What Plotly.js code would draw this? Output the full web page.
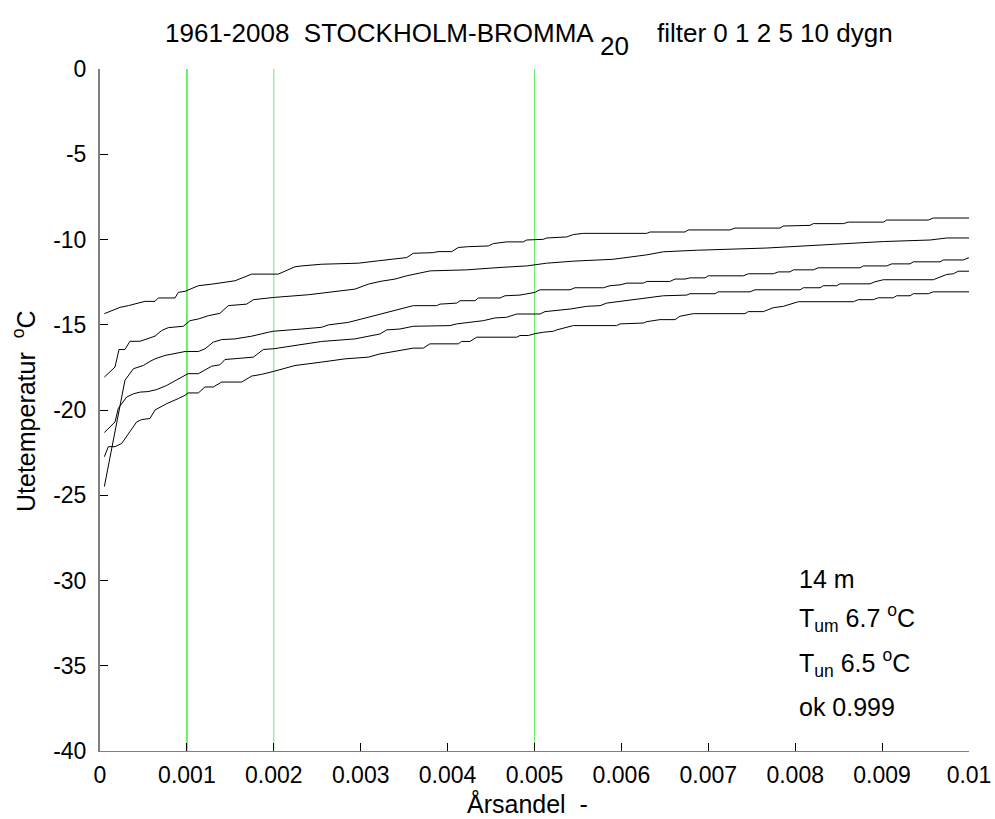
<!DOCTYPE html>
<html>
<head>
<meta charset="utf-8">
<script src="https://cdn.plot.ly/plotly-3.0.1.min.js"></script>
<style>html,body{margin:0;padding:0;background:#fff;}#chart{width:995px;height:819px;}</style>
</head>
<body>
<div id="chart"></div>
<script>
// Curve 1 (highest at right)
const x1 = [0.00005, 0.000173, 0.00023, 0.000326, 0.000441, 0.000517, 0.000633, 0.000671, 0.000863, 0.000901, 0.000978, 0.001132, 0.001286, 0.001438, 0.001554, 0.001746, 0.002051, 0.002244, 0.002321, 0.002551, 0.002972, 0.003203, 0.003375, 0.003529, 0.003605, 0.003835, 0.00389, 0.004047, 0.004123, 0.004238, 0.004468, 0.004526, 0.00468, 0.004871, 0.00491, 0.005101, 0.00514, 0.00537, 0.005447, 0.005561, 0.006291, 0.00633, 0.006732, 0.00677, 0.007249, 0.007307, 0.007825, 0.007863, 0.00817, 0.008208, 0.008553, 0.008611, 0.009014, 0.009053, 0.009532, 0.009589, 0.01];
const y1 = [-14.35, -14.08, -13.98, -13.88, -13.73, -13.63, -13.63, -13.43, -13.43, -13.1, -13.04, -12.71, -12.62, -12.52, -12.42, -12.03, -12.03, -11.6, -11.55, -11.45, -11.39, -11.25, -11.16, -11.06, -10.81, -10.77, -10.71, -10.71, -10.47, -10.42, -10.38, -10.24, -10.14, -10.14, -10.03, -9.99, -9.91, -9.85, -9.71, -9.64, -9.64, -9.56, -9.56, -9.44, -9.44, -9.33, -9.33, -9.21, -9.17, -9.07, -9.07, -8.98, -8.98, -8.86, -8.86, -8.74, -8.74];

// Curve 2
const x2 = [0.00005, 0.000173, 0.000219, 0.000287, 0.000345, 0.000461, 0.000633, 0.000709, 0.000786, 0.000958, 0.001036, 0.001132, 0.001247, 0.00138, 0.001476, 0.001688, 0.001765, 0.001995, 0.002397, 0.002628, 0.002934, 0.003087, 0.003222, 0.003395, 0.003529, 0.0038, 0.004219, 0.004603, 0.00491, 0.00514, 0.005447, 0.005906, 0.006291, 0.006483, 0.006866, 0.007672, 0.008132, 0.008593, 0.009014, 0.009552, 0.009744, 0.01];
const y2 = [-18.07, -17.48, -16.45, -16.45, -15.97, -15.97, -15.67, -15.34, -15.17, -15.09, -14.76, -14.66, -14.47, -14.33, -13.88, -13.79, -13.53, -13.4, -13.24, -13.1, -12.91, -12.62, -12.46, -12.32, -12.13, -11.84, -11.78, -11.64, -11.55, -11.39, -11.27, -11.16, -10.9, -10.72, -10.63, -10.5, -10.38, -10.24, -10.12, -10.03, -9.91, -9.91];

// Curve 3
const x3 = [0.00005, 0.000287, 0.000384, 0.000498, 0.000575, 0.000633, 0.000748, 0.000863, 0.000978, 0.001132, 0.001208, 0.001304, 0.0014, 0.001554, 0.001746, 0.001937, 0.001995, 0.002321, 0.002551, 0.002628, 0.002858, 0.003012, 0.003222, 0.003375, 0.003529, 0.003605, 0.003874, 0.003913, 0.004105, 0.004143, 0.004315, 0.004354, 0.004603, 0.00466, 0.004833, 0.005006, 0.005063, 0.005409, 0.005466, 0.005792, 0.005869, 0.005984, 0.006061, 0.006252, 0.006291, 0.006557, 0.006617, 0.006732, 0.006789, 0.006962, 0.007, 0.007403, 0.00746, 0.007748, 0.007806, 0.00794, 0.007979, 0.008208, 0.008265, 0.008745, 0.008783, 0.009053, 0.009111, 0.009321, 0.009359, 0.009666, 0.009704, 0.009935, 0.009991, 0.01];
const y3 = [-24.49, -18.26, -17.58, -17.39, -17.15, -17.0, -16.8, -16.67, -16.57, -16.57, -16.41, -16.02, -15.87, -15.83, -15.67, -15.44, -15.38, -15.25, -15.15, -15.01, -14.86, -14.66, -14.37, -14.18, -13.98, -13.88, -13.88, -13.79, -13.73, -13.59, -13.59, -13.43, -13.43, -13.3, -13.26, -13.1, -12.95, -12.95, -12.83, -12.83, -12.71, -12.66, -12.56, -12.56, -12.46, -12.46, -12.32, -12.32, -12.25, -12.25, -12.13, -12.13, -12.01, -12.01, -11.9, -11.9, -11.78, -11.78, -11.66, -11.66, -11.55, -11.55, -11.43, -11.43, -11.31, -11.31, -11.2, -11.2, -11.08, -11.08];

// Curve 4
const x4 = [0.00005, 0.000173, 0.000211, 0.000307, 0.000384, 0.000461, 0.000552, 0.000653, 0.000767, 0.000898, 0.001013, 0.001132, 0.001286, 0.00138, 0.001438, 0.001765, 0.001879, 0.001995, 0.002244, 0.002551, 0.002934, 0.003222, 0.0033, 0.003452, 0.003605, 0.004027, 0.004105, 0.004238, 0.004411, 0.004546, 0.00468, 0.004796, 0.005063, 0.005121, 0.005217, 0.005409, 0.005601, 0.005754, 0.005831, 0.005945, 0.006291, 0.006483, 0.006752, 0.006789, 0.007077, 0.007115, 0.00748, 0.007537, 0.008056, 0.008094, 0.008285, 0.008323, 0.008478, 0.008515, 0.008861, 0.008918, 0.009014, 0.009589, 0.009744, 0.009819, 0.009877, 0.01];
const y4 = [-21.32, -20.7, -19.9, -19.24, -19.05, -18.95, -18.92, -18.8, -18.56, -18.17, -17.87, -17.87, -17.43, -17.35, -17.04, -16.9, -16.45, -16.41, -16.22, -15.98, -15.83, -15.54, -15.3, -15.25, -15.09, -15.05, -14.95, -14.86, -14.76, -14.6, -14.56, -14.37, -14.37, -14.23, -14.18, -14.08, -13.92, -13.88, -13.73, -13.65, -13.45, -13.3, -13.26, -13.18, -13.18, -13.07, -13.07, -12.95, -12.95, -12.83, -12.83, -12.71, -12.71, -12.6, -12.6, -12.48, -12.36, -12.36, -12.05, -12.01, -11.86, -11.86];

// Curve 5 (lowest at right)
const x5 = [0.00005, 0.000096, 0.000173, 0.00025, 0.000326, 0.000422, 0.00048, 0.000575, 0.000633, 0.000767, 0.000901, 0.000978, 0.001013, 0.001132, 0.001208, 0.001304, 0.0014, 0.00163, 0.001746, 0.00186, 0.001995, 0.002244, 0.002551, 0.00282, 0.003087, 0.003222, 0.003337, 0.003491, 0.003605, 0.00372, 0.003797, 0.004123, 0.004161, 0.004257, 0.004335, 0.004796, 0.004833, 0.004929, 0.005006, 0.005101, 0.005217, 0.005256, 0.005447, 0.005945, 0.005984, 0.006252, 0.006291, 0.006444, 0.006617, 0.006674, 0.006752, 0.006828, 0.007423, 0.00746, 0.007633, 0.007748, 0.007863, 0.007998, 0.008036, 0.008669, 0.008726, 0.008899, 0.008956, 0.009128, 0.009167, 0.009321, 0.009359, 0.009532, 0.009589, 0.01];
const y5 = [-22.74, -22.15, -22.15, -21.96, -21.4, -20.7, -20.56, -20.5, -20.0, -19.63, -19.33, -19.14, -19.0, -19.0, -18.65, -18.65, -18.36, -18.36, -18.01, -17.91, -17.74, -17.39, -17.19, -17.0, -16.9, -16.71, -16.61, -16.45, -16.37, -16.37, -16.12, -16.12, -15.98, -15.98, -15.73, -15.73, -15.63, -15.63, -15.52, -15.44, -15.38, -15.3, -15.05, -15.05, -14.95, -14.9, -14.82, -14.7, -14.7, -14.5, -14.43, -14.35, -14.35, -14.23, -14.23, -14.0, -13.92, -13.69, -13.65, -13.65, -13.53, -13.53, -13.42, -13.42, -13.3, -13.3, -13.18, -13.18, -13.07, -13.07];

// Reference markers (vertical lines)
const markerX = [0.001, 0.002, 0.005];
const markerWidth = [2, 1, 1];

// Tick labels
const xTickVals = [0, 0.001, 0.002, 0.003, 0.004, 0.005, 0.006, 0.007, 0.008, 0.009, 0.01];
const xTickText = ['0', '0.001', '0.002', '0.003', '0.004', '0.005', '0.006', '0.007', '0.008', '0.009', '0.01'];
const yTickVals = [0, -5, -10, -15, -20, -25, -30, -35, -40];
const yTickText = ['0', '-5', '-10', '-15', '-20', '-25', '-30', '-35', '-40'];

// Texts
const titleMain = '1961-2008  STOCKHOLM-BROMMA';
const titleSub = '20';
const titleFilter = 'filter 0 1 2 5 10 dygn';
const xTitle = 'Årsandel  -';
const yTitle = 'Utetemperatur  <sup>o</sup>C';
const infoLines = ['14 m', 'T<sub>um</sub> 6.7 <sup>o</sup>C', 'T<sub>un</sub> 6.5 <sup>o</sup>C', 'ok 0.999'];
const infoY = [-29.93, -32.2, -34.85, -37.43];
const infoX = 0.00802;

const FONT = 'Liberation Sans, Arial, sans-serif';
const TICK_FS = 23;
const TEXT_FS = 25;
const TITLE_FS = 26;

const xs = [x1, x2, x3, x4, x5];
const ys = [y1, y2, y3, y4, y5];
const traces = xs.map((x, i) => ({
  x: x, y: ys[i], type: 'scatter', mode: 'lines',
  line: {color: '#000000', width: 1}, hoverinfo: 'skip', showlegend: false
}));

const shapes = markerX.map((mx, i) => ({
  type: 'line', xref: 'x', yref: 'paper', x0: mx, x1: mx, y0: 0, y1: 1,
  line: {color: '#66ee66', width: markerWidth[i]}, layer: 'below'
}));

const f = (s) => ({family: FONT, size: s, color: '#000'});
const annotations = infoLines.map((t, i) => ({
  xref: 'x', yref: 'y', x: infoX, y: infoY[i], text: t, showarrow: false,
  xanchor: 'left', yanchor: 'middle', font: f(TEXT_FS)
}));
// Title pieces (paper x=0 is at the left axis, 869 px wide plot)
annotations.push({xref: 'paper', yref: 'paper', x: 0, y: 1, xshift: 496, yshift: 36,
  xanchor: 'right', yanchor: 'middle', text: titleMain, showarrow: false, font: f(TITLE_FS)});
annotations.push({xref: 'paper', yref: 'paper', x: 0, y: 1, xshift: 498, yshift: 23,
  xanchor: 'left', yanchor: 'middle', text: titleSub, showarrow: false, font: f(TITLE_FS)});
annotations.push({xref: 'paper', yref: 'paper', x: 0, y: 1, xshift: 795, yshift: 36,
  xanchor: 'right', yanchor: 'middle', text: titleFilter, showarrow: false, font: f(TITLE_FS)});
// Axis titles
annotations.push({xref: 'paper', yref: 'paper', x: 0.5, y: 0, xshift: -7, yshift: -52,
  xanchor: 'center', yanchor: 'middle', text: xTitle, showarrow: false, font: f(TEXT_FS)});
annotations.push({xref: 'paper', yref: 'paper', x: 0, y: 0.5, xshift: -76, yshift: -2,
  xanchor: 'center', yanchor: 'middle', textangle: -90, text: yTitle, showarrow: false, font: f(TEXT_FS)});

const layout = {
  width: 995, height: 819,
  margin: {l: 100, r: 26, t: 69, b: 68},
  paper_bgcolor: '#ffffff', plot_bgcolor: '#ffffff',
  font: f(TICK_FS),
  showlegend: false,
  xaxis: {
    range: [0, 0.01], autorange: false, tickvals: xTickVals, ticktext: xTickText,
    ticks: 'inside', ticklen: 8, tickcolor: '#000', tickwidth: 1,
    showline: true, linecolor: '#808080', linewidth: 1, mirror: false,
    showgrid: false, zeroline: false, ticklabelstandoff: 3,
    tickfont: f(TICK_FS)
  },
  yaxis: {
    range: [-40, 0], autorange: false, tickvals: yTickVals, ticktext: yTickText,
    ticks: 'inside', ticklen: 8, tickcolor: '#000', tickwidth: 1,
    showline: true, linecolor: '#808080', linewidth: 2, mirror: false,
    showgrid: false, zeroline: false, ticklabelstandoff: 7,
    tickfont: f(TICK_FS)
  },
  shapes: shapes,
  annotations: annotations
};

Plotly.newPlot('chart', traces, layout, {displayModeBar: false, staticPlot: true});
</script>
</body>
</html>
